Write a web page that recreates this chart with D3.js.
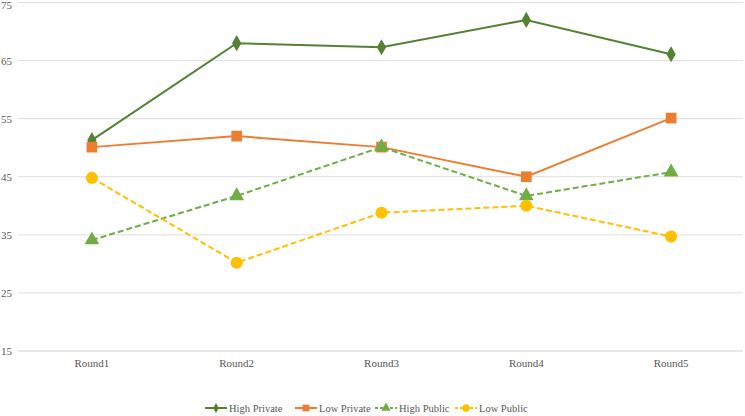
<!DOCTYPE html>
<html><head><meta charset="utf-8">
<script src="https://cdn.jsdelivr.net/npm/d3@7"></script>
<style>body{margin:0;background:#fff;}svg{display:block;} text{font-family:"Liberation Serif","Times New Roman","DejaVu Serif",serif;}</style>
</head><body>
<svg id="c" width="745" height="416"></svg>
<script>
const categories = ["Round1","Round2","Round3","Round4","Round5"];
const yTicks = [15,25,35,45,55,65,75];
const highPrivate = [51.3,68.0,67.3,72.0,66.1];
const lowPrivate  = [50.1,52.0,50.1,45.0,55.1];
const highPublic  = [34.1,41.7,50.1,41.7,45.8];
const lowPublic   = [44.8,30.2,38.8,40.0,34.7];
const seriesNames = ["High Private","Low Private","High Public","Low Public"];

const series = [
  {name:seriesNames[0], values:highPrivate, color:"#548235", dash:null, marker:"diamond"},
  {name:seriesNames[1], values:lowPrivate,  color:"#ED7D31", dash:null, marker:"square"},
  {name:seriesNames[2], values:highPublic,  color:"#70AD47", dash:"6,3", marker:"triangle"},
  {name:seriesNames[3], values:lowPublic,   color:"#FFC000", dash:"6,3", marker:"circle"}
];

const svg = d3.select("#c");
const x = d3.scaleBand().domain(categories).range([19.5,743.5]);
const y = d3.scaleLinear().domain([15,75]).range([351,2.5]);

// grid
svg.append("g").selectAll("line").data(yTicks).join("line")
  .attr("x1",18).attr("x2",743).attr("y1",d=>y(d)).attr("y2",d=>y(d))
  .attr("stroke",d=>d===15?"#d0d0d0":"#dedede").attr("stroke-width",1);

// y labels
svg.append("g").selectAll("text").data(yTicks).join("text")
  .attr("x",12).attr("y",d=>Math.max(y(d)+4,9)).attr("text-anchor","end")
  .style("font-size","11px").attr("fill","#595959")
  .text(d=>d);

// x labels
svg.append("g").selectAll("text").data(categories).join("text")
  .attr("x",d=>x(d)+x.bandwidth()/2).attr("y",367).attr("text-anchor","middle")
  .style("font-size","11px").attr("fill","#595959")
  .text(d=>d);

const symType = {diamond:d3.symbolDiamond, square:d3.symbolSquare, triangle:d3.symbolTriangle, circle:d3.symbolCircle};
const symSize = {diamond:75, square:115, triangle:95, circle:115};
const cx = d=>x(d)+x.bandwidth()/2;

const line = d3.line().x((d,i)=>cx(categories[i])).y(d=>y(d));
series.forEach(s=>{
  svg.append("path").datum(s.values).attr("d",line)
    .attr("fill","none").attr("stroke",s.color).attr("stroke-width",2)
    .attr("stroke-dasharray",s.dash);
});
series.forEach(s=>{
  svg.append("g").selectAll("path").data(s.values).join("path")
    .attr("d",d3.symbol().type(symType[s.marker]).size(symSize[s.marker]))
    .attr("transform",(d,i)=>`translate(${cx(categories[i])},${y(d)})`)
    .attr("fill",s.color);
});

// legend
const legX = [205,295,375,455];
const lg = svg.append("g");
series.forEach((s,i)=>{
  const g = lg.append("g").attr("transform",`translate(${legX[i]},408)`);
  g.append("line").attr("x1",0).attr("x2",22).attr("y1",0).attr("y2",0)
    .attr("stroke",s.color).attr("stroke-width",2).attr("stroke-dasharray",s.dash?"3,2":null);
  g.append("path").attr("d",d3.symbol().type(symType[s.marker]).size(symSize[s.marker]*0.4))
    .attr("transform","translate(11,0)").attr("fill",s.color);
  g.append("text").attr("x",24).attr("y",4)
    .style("font-size","10.5px").attr("fill","#595959").text(s.name);
});
</script>
</body></html>
